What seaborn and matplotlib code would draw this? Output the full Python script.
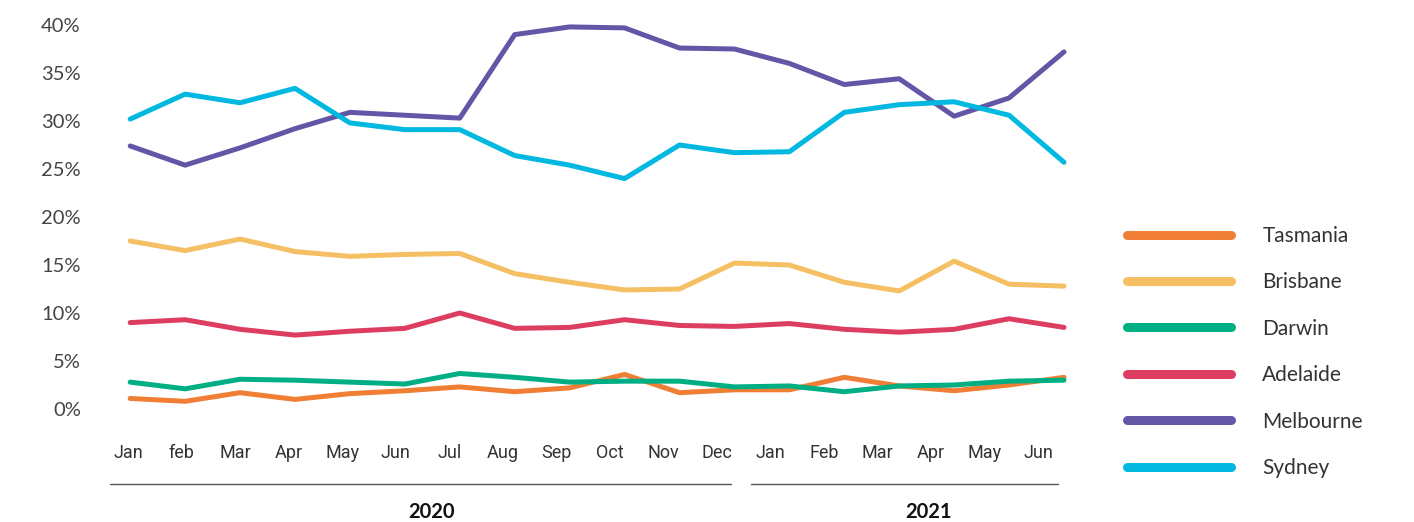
import numpy as np
import pandas as pd
import seaborn as sns
from matplotlib import pyplot as plt
from matplotlib import transforms

months = ["Jan", "feb", "Mar", "Apr", "May", "Jun", "Jul", "Aug", "Sep", "Oct",
          "Nov", "Dec", "Jan", "Feb", "Mar", "Apr", "May", "Jun"]
years = ["2020", "2021"]

tasmania = [1.1, 0.8, 1.7, 1.0, 1.6, 1.9, 2.3, 1.8, 2.2, 3.6, 1.7, 2.0, 2.0, 3.3, 2.4, 1.9, 2.5, 3.3]
brisbane = [17.5, 16.5, 17.7, 16.4, 15.9, 16.1, 16.2, 14.1, 13.2, 12.4, 12.5, 15.2, 15.0, 13.2, 12.3, 15.4, 13.0, 12.8]
darwin = [2.8, 2.1, 3.1, 3.0, 2.8, 2.6, 3.7, 3.3, 2.8, 2.9, 2.9, 2.3, 2.4, 1.8, 2.4, 2.5, 2.9, 3.0]
adelaide = [9.0, 9.3, 8.3, 7.7, 8.1, 8.4, 10.0, 8.4, 8.5, 9.3, 8.7, 8.6, 8.9, 8.3, 8.0, 8.3, 9.4, 8.5]
melbourne = [27.4, 25.4, 27.2, 29.2, 30.9, 30.6, 30.3, 39.0, 39.8, 39.7, 37.6, 37.5, 36.0, 33.8, 34.4, 30.5, 32.4, 37.2]
sydney = [30.2, 32.8, 31.9, 33.4, 29.8, 29.1, 29.1, 26.4, 25.4, 24.0, 27.5, 26.7, 26.8, 30.9, 31.7, 32.0, 30.6, 25.7]

series = {
    "Tasmania": tasmania,
    "Brisbane": brisbane,
    "Darwin": darwin,
    "Adelaide": adelaide,
    "Melbourne": melbourne,
    "Sydney": sydney,
}
colors = {
    "Tasmania": "#F07F35",
    "Brisbane": "#F5BF64",
    "Darwin": "#00AE84",
    "Adelaide": "#DE3D62",
    "Melbourne": "#6356A6",
    "Sydney": "#00B8E0",
}

rows = []
for city, vals in series.items():
    for i, v in enumerate(vals):
        rows.append((i, v, city))
df = pd.DataFrame(rows, columns=["month", "share", "city"])

sns.set_theme(style="white")
plt.rcParams["font.family"] = ["Lato", "DejaVu Sans"]

fig = plt.figure(figsize=(14.14, 5.22), dpi=100)
ax = fig.add_axes([128 / 1414, 113 / 522, 936 / 1414, 384 / 522])

sns.lineplot(data=df, x="month", y="share", hue="city", palette=colors,
             hue_order=list(series.keys()), linewidth=3.6, ax=ax,
             solid_capstyle="round", clip_on=False)

ax.set_xlim(0, 17)
ax.set_ylim(0, 40)
ax.set_yticks(np.arange(0, 41, 5))
ax.set_yticklabels([f"{v}%" for v in range(0, 41, 5)], fontsize=14.5,
                   color="#444444")
ax.set_xticks(np.linspace(-0.04, 16.53, len(months)))
ax.set_xticklabels(months, fontsize=13, color="#333333", family="Roboto")
ax.tick_params(axis="y", length=0, pad=34)
ax.tick_params(axis="x", length=0, pad=25)
ax.set_xlabel("")
ax.set_ylabel("")
for s in ax.spines.values():
    s.set_visible(False)

# year brackets under the month labels
trans = transforms.blended_transform_factory(ax.transData, ax.transAxes)
ax.plot([-0.36, 10.93], [-0.195, -0.195], color="#555555", lw=1.0,
        transform=trans, clip_on=False)
ax.plot([11.3, 16.89], [-0.195, -0.195], color="#555555", lw=1.0,
        transform=trans, clip_on=False)
ax.text(5.48, -0.268, years[0], transform=trans, ha="center", va="center",
        fontsize=14.5, fontweight="bold", color="#111111")
ax.text(14.53, -0.268, years[1], transform=trans, ha="center", va="center",
        fontsize=14.5, fontweight="bold", color="#111111")

leg = ax.legend(loc="center left", bbox_to_anchor=(1127 / 1414, 1 - 352 / 522),
                bbox_transform=fig.transFigure, frameon=False, fontsize=15,
                handlelength=5.0, handletextpad=1.5, labelspacing=1.27,
                borderpad=0, borderaxespad=0)
for line in leg.get_lines():
    line.set_linewidth(6.5)
    line.set_solid_capstyle("round")
for t in leg.get_texts():
    t.set_color("#333333")

fig.savefig("out.png", dpi=100)
